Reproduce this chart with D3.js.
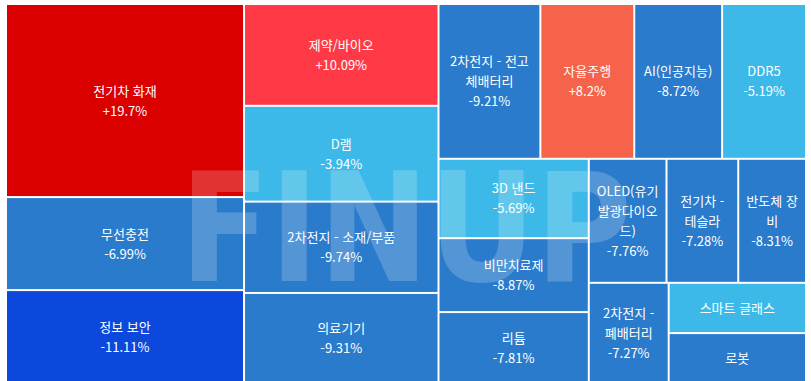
<!DOCTYPE html>
<html lang="ko">
<head>
<meta charset="utf-8">
<script src="https://cdn.jsdelivr.net/npm/d3@7"></script>
<style>
  html, body { margin: 0; padding: 0; background: #fff; }
  #chart { width: 811px; height: 381px; overflow: hidden; }
  .label {
    width: 100%; height: 100%;
    box-sizing: border-box;
    padding: 0 7px;
    display: flex; flex-direction: column;
    align-items: center; justify-content: center;
    color: #fff;
    font-family: "Noto Sans CJK KR", "Noto Sans", sans-serif;
    font-size: 13px;
    line-height: 20px;
    text-align: center;
  }
</style>
</head>
<body>
<div id="chart"></div>
<script>
// theme names
const themes = [
  "전기차 화재", "무선충전", "정보 보안",
  "제약/바이오", "D램", "2차전지 - 소재/부품", "의료기기",
  "2차전지 - 전고체배터리", "자율주행", "AI(인공지능)", "DDR5",
  "3D 낸드", "비만치료제", "리튬",
  "OLED(유기발광다이오드)", "전기차 - 테슬라", "반도체 장비",
  "2차전지 - 폐배터리", "스마트 글래스", "로봇"
];

// box size (weight) of each theme
const weights = [
  45934, 22134, 22100,
  19788, 18624, 17750, 17500,
  15759, 14523, 13596, 12978,
  11925, 11100, 10650,
  9633, 8892, 8398,
  8000, 6900, 6850
];

// change rate, %
const changes = [
  19.7, -6.99, -11.11,
  10.09, -3.94, -9.74, -9.31,
  -9.21, 8.2, -8.72, -5.19,
  -5.69, -8.87, -7.81,
  -7.76, -7.28, -8.31,
  -7.27, -5.0, -7.0
];

const width = 798, height = 377;

const svg = d3.select("#chart")
  .append("svg")
  .attr("width", 811)
  .attr("height", 381);

const g = svg.append("g").attr("transform", "translate(7,5)");

const color = d3.scaleThreshold()
  .domain([-10, -6, 0, 9, 15])
  .range(["#0b48db", "#2a7bcc", "#3cb9e8", "#f5634b", "#ff3a46", "#db0000"]);

const root = d3.hierarchy({
    children: themes.map((name, i) => ({ name: name, weight: weights[i], change: changes[i] }))
  })
  .sum(d => d.weight || 0)
  .sort((a, b) => b.value - a.value);

d3.treemap()
  .tile(d3.treemapSquarify.ratio(1.575))
  .size([width, height])
  .paddingInner(2)(root);

const cell = g.selectAll("g.cell")
  .data(root.leaves())
  .join("g")
  .attr("class", "cell");

cell.append("rect")
  .attr("x", d => d.x0)
  .attr("y", d => d.y0)
  .attr("width", d => d.x1 - d.x0)
  .attr("height", d => d.y1 - d.y0)
  .attr("fill", d => color(d.data.change));

//watermark
g.append("text")
  .attr("x", 173)
  .attr("y", 276)
  .attr("font-family", "DejaVu Sans")
  .attr("font-weight", "bold")
  .attr("font-size", 152)
  .attr("textLength", 452)
  .attr("lengthAdjust", "spacingAndGlyphs")
  .attr("fill", "#fff")
  .attr("fill-opacity", 0.2)
  .text("FINUP");

const fo = cell.append("foreignObject")
  .attr("x", d => d.x0)
  .attr("y", d => d.y0)
  .attr("width", d => d.x1 - d.x0)
  .attr("height", d => d.y1 - d.y0)
  .append("xhtml:div")
  .attr("class", "label");

fo.append("xhtml:div")
  .text(d => d.data.name);

// small boxes only show the name
fo.filter(d => d.y1 - d.y0 >= 55)
  .append("xhtml:div")
  .text(d => (d.data.change > 0 ? "+" : "") + d.data.change + "%");
</script>
</body>
</html>
